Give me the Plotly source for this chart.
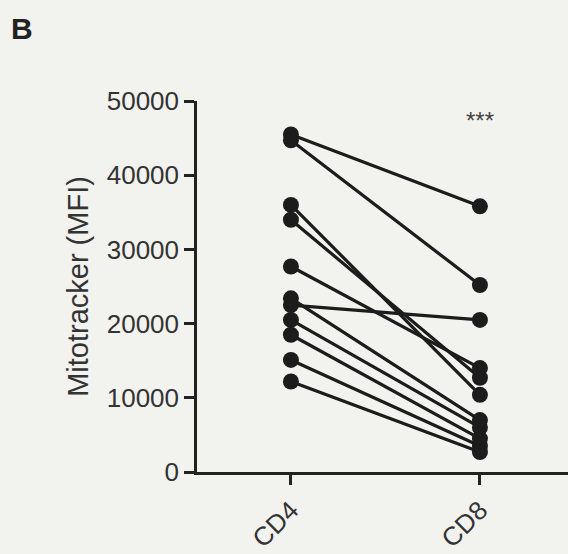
import plotly.graph_objects as go

groups = ["CD4", "CD8"]
cd4_values = [45500, 44700, 36000, 34000, 27700, 22500, 23400, 20500, 18500, 15100, 12200]
cd8_values = [35800, 25200, 10400, 12700, 14000, 20500, 7000, 6000, 4500, 3500, 2700]
y_ticks = [0, 10000, 20000, 30000, 40000, 50000]
y_title = "Mitotracker (MFI)"
sig_label = "***"
panel_label = "B"

fig = go.Figure()
xpos = [0, 1]
for a, b in zip(cd4_values, cd8_values):
    fig.add_trace(go.Scatter(
        x=xpos, y=[a, b], mode="lines+markers",
        line=dict(color="#1c1c1c", width=3.2),
        marker=dict(color="#1c1c1c", size=16),
        showlegend=False, hoverinfo="skip"))

bg = "#f2f2ef"
fig.update_layout(
    width=568, height=554,
    paper_bgcolor=bg, plot_bgcolor=bg,
    margin=dict(l=197, r=0, t=101, b=82),
    font=dict(family="Liberation Sans, Arial, sans-serif", color="#333333"),
)
fig.update_xaxes(
    range=[-0.497, 1.466], tickvals=xpos, ticktext=groups, tickangle=-45,
    showgrid=False, zeroline=False, showline=True, linecolor="#222222", linewidth=2.5,
    ticks="outside", ticklen=10, tickwidth=2.5, tickcolor="#222222",
    tickfont=dict(size=26, color="#333333"),
)
fig.update_yaxes(
    range=[0, 50000], tickvals=y_ticks, ticktext=[str(v) for v in y_ticks],
    showgrid=False, zeroline=False, showline=True, linecolor="#222222", linewidth=2.5,
    ticks="outside", ticklen=10, tickwidth=2.5, tickcolor="#222222",
    tickfont=dict(size=26, color="#333333"),
    title=dict(text=y_title, font=dict(size=29, color="#333333"), standoff=10),
)
fig.add_annotation(x=1, y=47400, text=sig_label, showarrow=False,
                   font=dict(size=24, color="#444444"), xref="x", yref="y")
fig.add_annotation(xref="paper", yref="paper",
                   x=(22 - 197) / 371, y=(472 - 28) / 371,
                   xanchor="center", yanchor="middle",
                   text="<b>" + panel_label + "</b>",
                   showarrow=False, font=dict(size=30, color="#222222"))
fig.write_html("out.html")
